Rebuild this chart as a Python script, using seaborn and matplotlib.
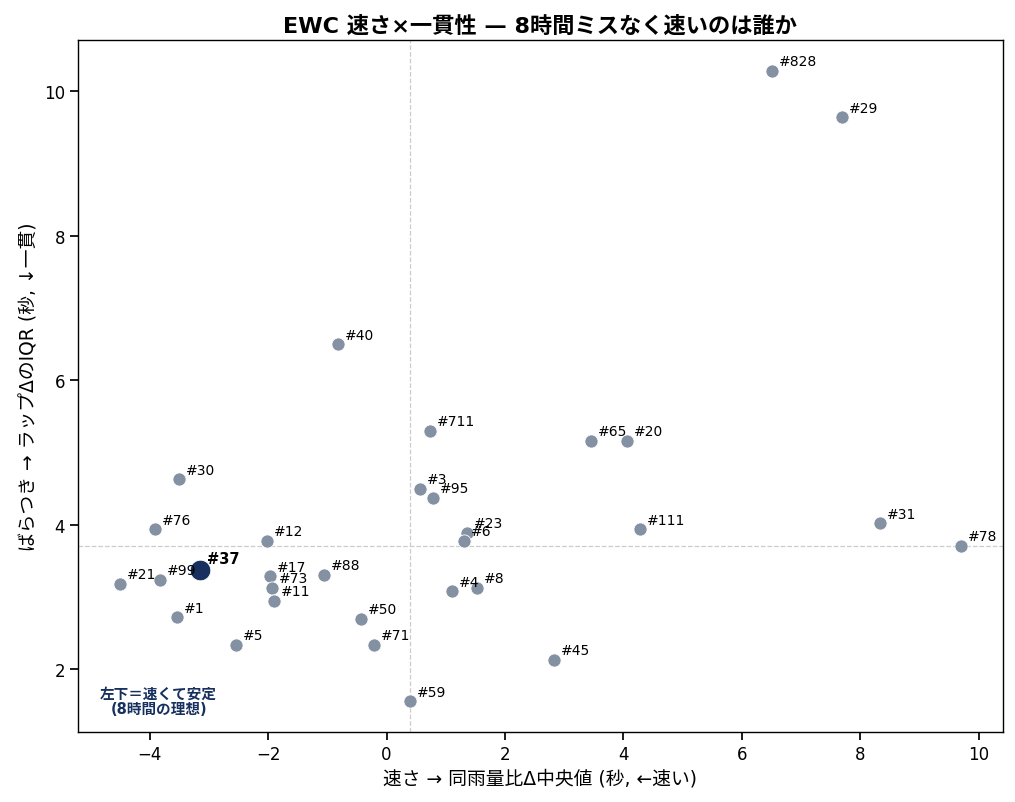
import matplotlib
matplotlib.use("Agg")
import matplotlib.pyplot as plt
import seaborn as sns
import pandas as pd

labels = ["#828", "#29", "#40", "#711", "#65", "#20", "#30", "#3", "#95", "#76",
          "#12", "#23", "#6", "#111", "#31", "#78", "#37", "#17", "#73", "#11",
          "#88", "#99", "#21", "#1", "#5", "#50", "#71", "#4", "#8", "#45", "#59"]
speed = [6.51, 7.69, -0.82, 0.73, 3.45, 4.06, -3.50, 0.57, 0.79, -3.91,
         -2.02, 1.36, 1.31, 4.28, 8.34, 9.70, -3.15, -1.97, -1.94, -1.90,
         -1.05, -3.83, -4.50, -3.54, -2.54, -0.43, -0.21, 1.11, 1.53, 2.83, 0.40]
iqr = [10.28, 9.64, 6.50, 5.30, 5.16, 5.16, 4.63, 4.50, 4.37, 3.94,
       3.78, 3.89, 3.78, 3.94, 4.02, 3.71, 3.37, 3.29, 3.13, 2.95,
       3.31, 3.24, 3.18, 2.72, 2.34, 2.70, 2.34, 3.08, 3.13, 2.13, 1.56]
highlight = "#37"
median_speed = 0.40
median_iqr = 3.71

df = pd.DataFrame({"label": labels, "speed": speed, "iqr": iqr})
df["hl"] = df["label"] == highlight

sns.set_theme(style="ticks")
plt.rcParams['font.family'] = ['DejaVu Sans', 'Noto Sans CJK JP']
plt.rcParams['text.color'] = 'black'
plt.rcParams['axes.labelcolor'] = 'black'
plt.rcParams['xtick.color'] = 'black'
plt.rcParams['ytick.color'] = 'black'
plt.rcParams['axes.titlecolor'] = 'black'

fig, ax = plt.subplots(figsize=(10.15, 8.03), dpi=100)
fig.subplots_adjust(left=0.077, right=0.988, top=0.949, bottom=0.087)

others = df[~df["hl"]]
hl = df[df["hl"]]
sns.scatterplot(data=others, x="speed", y="iqr", ax=ax, s=90, color="#8491A3",
                edgecolor="white", linewidth=0.6, zorder=3)
sns.scatterplot(data=hl, x="speed", y="iqr", ax=ax, s=220, color="#17305E",
                edgecolor="white", linewidth=0.6, zorder=4)

ax.axvline(median_speed, color="#cccccc", ls="--", lw=0.9, zorder=1)
ax.axhline(median_iqr, color="#cccccc", ls="--", lw=0.9, zorder=1)

for _, r in df.iterrows():
    if r["hl"]:
        ax.annotate(r["label"], (r["speed"], r["iqr"]), xytext=(5, 5),
                    textcoords="offset points", fontsize=10.5, fontweight="bold",
                    color="black", zorder=5)
    else:
        ax.annotate(r["label"], (r["speed"], r["iqr"]), xytext=(5, 4),
                    textcoords="offset points", fontsize=10, color="black", zorder=5)

ax.text(0.087, 0.045, "左下＝速くて安定\n(8時間の理想)", transform=ax.transAxes,
        ha="center", va="center", fontsize=10.5, fontweight="bold", color="#17305E",
        linespacing=1.0)

ax.set_xlim(-5.21, 10.41)
ax.set_ylim(1.13, 10.71)
ax.set_xticks([-4, -2, 0, 2, 4, 6, 8, 10])
ax.set_yticks([2, 4, 6, 8, 10])
ax.tick_params(labelsize=12)
ax.set_xlabel("速さ → 同雨量比Δ中央値 (秒, ←速い)", fontsize=13.5)
ax.set_ylabel("ばらつき → ラップΔのIQR (秒, ↓一貫)", fontsize=13.5)
ax.set_title("EWC 速さ×一貫性 — 8時間ミスなく速いのは誰か", fontsize=16, fontweight="bold")
for sp in ax.spines.values():
    sp.set_visible(True)
    sp.set_color("black")
    sp.set_linewidth(1.0)

fig.savefig("out.png", dpi=100)
